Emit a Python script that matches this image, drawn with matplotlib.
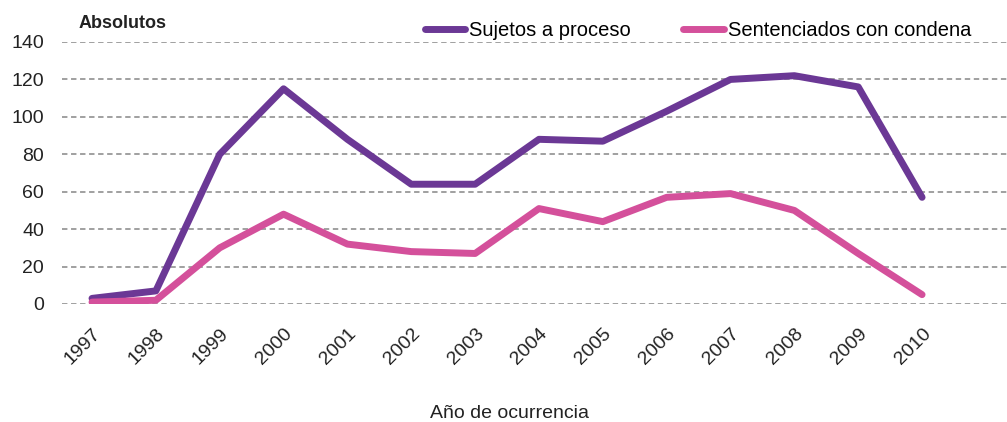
import matplotlib.pyplot as plt

plt.rcParams['font.family'] = ['Liberation Sans', 'DejaVu Sans']

years = ["1997", "1998", "1999", "2000", "2001", "2002", "2003",
         "2004", "2005", "2006", "2007", "2008", "2009", "2010"]
sujetos = [3, 7, 80, 115, 88, 64, 64, 88, 87, 103, 120, 122, 116, 57]
sentenciados = [1, 2, 30, 48, 32, 28, 27, 51, 44, 57, 59, 50, 27, 5]

fig = plt.figure(figsize=(10.07, 4.22), dpi=100)
ax = fig.add_axes([62 / 1007, 1 - 304 / 422, 1 - 62 / 1007, 262 / 422])

x = range(len(years))
ax.plot(x, sujetos, color="#6B3895", lw=5, solid_capstyle="round",
        solid_joinstyle="round", label="Sujetos a proceso")
ax.plot(x, sentenciados, color="#D4509B", lw=5, solid_capstyle="round",
        solid_joinstyle="round", label="Sentenciados con condena")

ax.set_ylim(0, 140)
ax.set_xlim(-0.47, 14.33)
ax.set_yticks(range(0, 141, 20))
ax.set_xticks(list(x))
ax.set_xticklabels(years, rotation=45, ha="right", rotation_mode="anchor")
ax.tick_params(axis="both", length=0, labelsize=14, colors="#222222")
ax.tick_params(axis="x", pad=15)
ax.tick_params(axis="y", pad=13)
ax.yaxis.grid(True, linestyle=(0, (3, 2)), color="#999999", lw=1.3)
ax.set_axisbelow(True)
for s in ax.spines.values():
    s.set_visible(False)

fig.text(510 / 1007, 1 - 413 / 422, "Año de ocurrencia", fontsize=14,
         color="#222222", ha="center", va="center")
fig.text(79 / 1007, 1 - 23 / 422, "Absolutos", fontsize=13, fontweight="bold",
         va="center", ha="left", color="#222222")

ax.legend(loc="center", bbox_to_anchor=(0.673, 1.045), ncol=2, frameon=False,
          fontsize=14.5, handlelength=2.0, handletextpad=0.2, columnspacing=2.6,
          borderpad=0)

fig.savefig("out.png", dpi=100)
